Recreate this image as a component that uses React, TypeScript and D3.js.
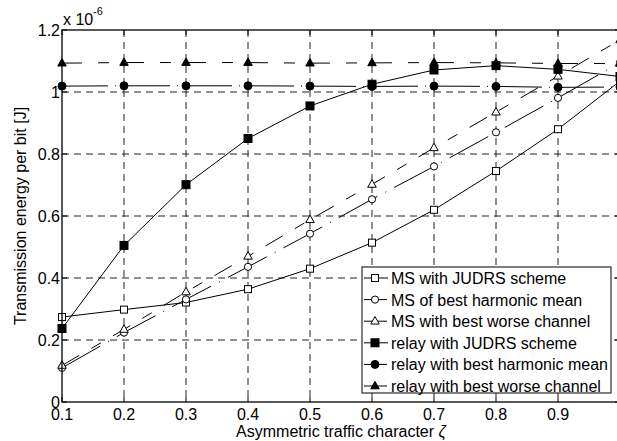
import React from "react";
import * as d3 from "d3";

const xValues = [0.1, 0.2, 0.3, 0.4, 0.5, 0.6, 0.7, 0.8, 0.9, 1.0];
const msJudrs = [0.274, 0.298, 0.321, 0.364, 0.43, 0.514, 0.62, 0.745, 0.88, 1.035];
const msHarmonic = [0.11, 0.224, 0.331, 0.436, 0.543, 0.654, 0.76, 0.87, 0.981, 1.095];
const msWorse = [0.118, 0.234, 0.355, 0.47, 0.588, 0.702, 0.82, 0.935, 1.051, 1.168];
const relayJudrs = [0.237, 0.505, 0.701, 0.85, 0.955, 1.025, 1.071, 1.085, 1.073, 1.05];
const relayHarmonic = [1.019, 1.02, 1.02, 1.02, 1.019, 1.018, 1.019, 1.018, 1.015, 1.016];
const relayWorse = [1.093, 1.095, 1.095, 1.095, 1.093, 1.094, 1.095, 1.094, 1.092, 1.092];

const xTicks = [0.1, 0.2, 0.3, 0.4, 0.5, 0.6, 0.7, 0.8, 0.9, 1.0];
const xTickLabels = ["0.1", "0.2", "0.3", "0.4", "0.5", "0.6", "0.7", "0.8", "0.9"];
const yTicks = [0, 0.2, 0.4, 0.6, 0.8, 1.0, 1.2];
const yTickLabels = ["0", "0.2", "0.4", "0.6", "0.8", "1", "1.2"];

const seriesNames = [
  "MS with JUDRS scheme",
  "MS of best harmonic mean",
  "MS with best worse channel",
  "relay with JUDRS scheme",
  "relay with best harmonic mean",
  "relay with best worse channel",
];

type Marker = "square" | "circle" | "triangle";
const series: { name: string; values: number[]; marker: Marker; filled: boolean; dash: string }[] = [
  { name: seriesNames[0], values: msJudrs, marker: "square", filled: false, dash: "none" },
  { name: seriesNames[1], values: msHarmonic, marker: "circle", filled: false, dash: "44 9 1 9" },
  { name: seriesNames[2], values: msWorse, marker: "triangle", filled: false, dash: "20 14 11 14" },
  { name: seriesNames[3], values: relayJudrs, marker: "square", filled: true, dash: "none" },
  { name: seriesNames[4], values: relayHarmonic, marker: "circle", filled: true, dash: "46 7 1 8" },
  { name: seriesNames[5], values: relayWorse, marker: "triangle", filled: true, dash: "20 16 11 15" },
];

const FONT = "'Liberation Sans', Arial, Helvetica, sans-serif";

function MarkerShape({ type, filled, x, y }: { type: Marker; filled: boolean; x: number; y: number }) {
  const fill = filled ? "#000" : "#fff";
  if (type === "square") {
    const s = filled ? 8 : 7;
    return <rect x={x - s / 2} y={y - s / 2} width={s} height={s} fill={fill} stroke="#000" strokeWidth={1} />;
  }
  if (type === "circle") {
    const r = filled ? 4 : 3.6;
    return <circle cx={x} cy={y} r={r} fill={fill} stroke="#000" strokeWidth={1} />;
  }
  const h = 7.5;
  const w = 8.5;
  const pts = `${x},${y - h * 0.62} ${x - w / 2},${y + h * 0.38} ${x + w / 2},${y + h * 0.38}`;
  return <polygon points={pts} fill={fill} stroke="#000" strokeWidth={1} strokeLinejoin="miter" />;
}

export default function App() {
  const W = 617;
  const H = 441;
  const left = 62;
  const right = 620;
  const top = 30;
  const bottom = 402;

  const x = d3.scaleLinear().domain([0.1, 1.0]).range([left, right]);
  const y = d3.scaleLinear().domain([0, 1.2]).range([bottom, top]);
  const line = d3
    .line<number>()
    .x((_, i) => x(xValues[i]))
    .y((d) => y(d));

  const gridDash = "7 5";
  const tickLen = 5;

  const legX = 362;
  const legY = 267;
  const legW = 249;
  const legH = 126;
  const rowH = 21.6;

  return (
    <svg
      width={W}
      height={H}
      style={{ position: "absolute", left: 0, top: 0, background: "#fff" }}
      fontFamily={FONT}
    >
      <rect x={0} y={0} width={W} height={H} fill="#fff" />
      {/* grid */}
      {xTicks.slice(1, -1).map((t) => (
        <line key={"gx" + t} x1={x(t)} x2={x(t)} y1={top} y2={bottom} stroke="#222" strokeWidth={1} strokeDasharray={gridDash} />
      ))}
      {yTicks.slice(1, -1).map((t) => (
        <line key={"gy" + t} x1={left} x2={right} y1={y(t)} y2={y(t)} stroke="#222" strokeWidth={1} strokeDasharray={gridDash} />
      ))}
      {/* ticks */}
      {xTicks.map((t) => (
        <g key={"tx" + t}>
          <line x1={x(t)} x2={x(t)} y1={bottom} y2={bottom - tickLen} stroke="#000" />
          <line x1={x(t)} x2={x(t)} y1={top} y2={top + tickLen} stroke="#000" />
        </g>
      ))}
      {yTicks.map((t) => (
        <g key={"ty" + t}>
          <line x1={left} x2={left + tickLen} y1={y(t)} y2={y(t)} stroke="#000" />
          <line x1={right} x2={right - tickLen} y1={y(t)} y2={y(t)} stroke="#000" />
        </g>
      ))}
      {/* data lines */}
      {series.map((s) => (
        <path
          key={"l" + s.name}
          d={line(s.values) || ""}
          fill="none"
          stroke="#000"
          strokeWidth={1}
          strokeDasharray={s.dash}
        />
      ))}
      {/* markers */}
      {series.map((s) =>
        s.values.map((v, i) => (
          <MarkerShape key={s.name + i} type={s.marker} filled={s.filled} x={x(xValues[i])} y={y(v)} />
        ))
      )}
      {/* frame */}
      <rect x={left} y={top} width={right - left} height={bottom - top} fill="none" stroke="#000" strokeWidth={1.3} />
      {/* tick labels */}
      {xTickLabels.map((lab, i) => (
        <text key={"xl" + lab} x={x(xTicks[i])} y={420} fontSize={16} textAnchor="middle" fill="#000">
          {lab}
        </text>
      ))}
      {yTicks.map((t, i) => (
        <text key={"yl" + t} x={60} y={y(t) + 6} fontSize={16} textAnchor="end" fill="#000">
          {yTickLabels[i]}
        </text>
      ))}
      {/* exponent */}
      <text x={63} y={25} fontSize={16} fill="#000">x 10</text>
      <text x={93} y={15} fontSize={11} fill="#000">-6</text>
      {/* axis labels */}
      <text x={(left + right) / 2} y={437} fontSize={16} textAnchor="middle" fill="#000">
        Asymmetric traffic character <tspan fontStyle="italic">ζ</tspan>
      </text>
      <text
        transform={`translate(26, ${(top + bottom) / 2}) rotate(-90)`}
        fontSize={16}
        textAnchor="middle"
        fill="#000"
      >
        Transmission energy per bit [J]
      </text>
      {/* legend */}
      <rect x={legX} y={legY} width={legW} height={legH} fill="#fff" stroke="#000" strokeWidth={1} />
      {series.map((s, i) => {
        const cy = legY + 11 + i * rowH;
        return (
          <g key={"lg" + s.name}>
            <line x1={legX + 2} x2={legX + 26} y1={cy} y2={cy} stroke="#000" strokeWidth={1} strokeDasharray={s.dash === "none" ? "none" : "9 5"} />
            <MarkerShape type={s.marker} filled={s.filled} x={legX + 13} y={cy} />
            <text x={legX + 29} y={cy + 6} fontSize={16} fill="#000">
              {s.name}
            </text>
          </g>
        );
      })}
    </svg>
  );
}
